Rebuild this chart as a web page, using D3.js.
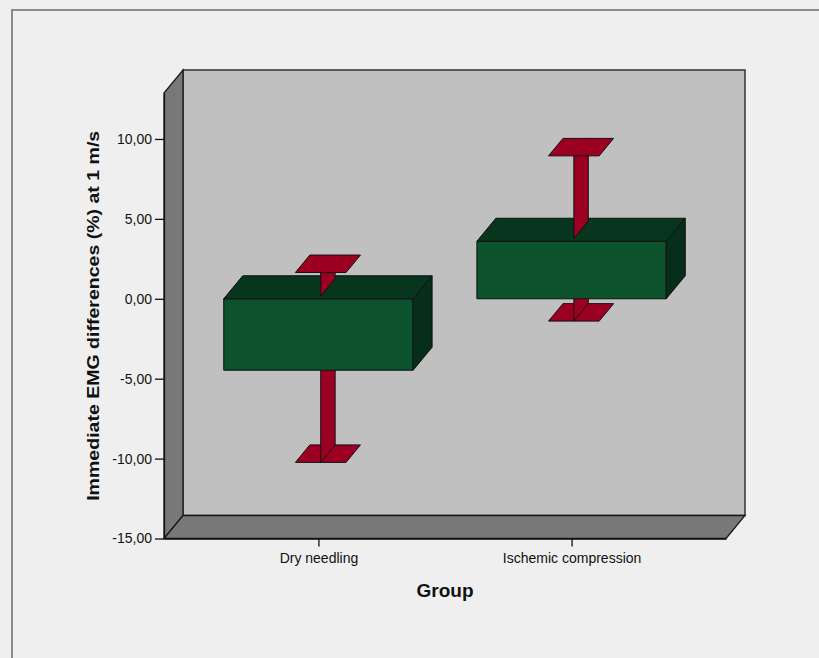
<!DOCTYPE html>
<html>
<head>
<meta charset="utf-8">
<script src="https://cdn.jsdelivr.net/npm/d3@7"></script>
<style>
  html, body { margin: 0; padding: 0; background: #efefef; }
  svg { display: block; }
  text { font-family: "Liberation Sans", Arial, sans-serif; fill: #111; }
</style>
</head>
<body>
<svg id="chart" width="819" height="658"></svg>
<script>
// Group means of immediate EMG differences with their error intervals
const categories = ["Dry needling", "Ischemic compression"];
const means = [-4.47, 3.60];
const errLower = [-10.41, -1.57];
const errUpper = [1.47, 8.77];
const yTicks = [-15, -10, -5, 0, 5, 10];
const yDomain = [-15, 12.87];
const xTitle = "Group";
const yTitle = "Immediate EMG differences (%) at 1 m/s";

const svg = d3.select("#chart");

// Plot frame (front plane) and 3D depth offset
const front = { left: 164, right: 726, top: 93.1, bottom: 538.5 };
const DX = 19, DY = -23;

const y = d3.scaleLinear().domain(yDomain).range([front.bottom, front.top]);
const x = d3.scalePoint().domain(categories).range([front.left, front.right]).padding(0.61);
const step = x.step();
const barHalf = 0.374 * step;
const capHalf = 0.1 * step;
const z0 = 0.12, z1 = 0.88;

// project a point (screen x on front plane, data value, depth fraction)
const P = (px, v, z) => [px + z * DX, y(v) + z * DY];
const poly = pts => "M" + pts.map(p => p.join(",")).join("L") + "Z";

const colors = {
  bg: "#efefef", frame: "#8a8a8a",
  backWall: "#c0c0c0", sideWall: "#787878",
  barFront: "#0b522d", barTop: "#07351e", barSide: "#062e1a",
  err: "#9b0023", edge: "#111"
};

// outer frame
svg.append("rect").attr("x", 12).attr("y", 10).attr("width", 830).attr("height", 670)
  .attr("fill", colors.bg).attr("stroke", colors.frame).attr("stroke-width", 2);

const vMin = yDomain[0], vMax = yDomain[1];
const L = front.left, R = front.right;

// back wall
svg.append("path")
  .attr("d", poly([P(L, vMin, 1), P(L, vMax, 1), P(R, vMax, 1), P(R, vMin, 1)]))
  .attr("fill", colors.backWall).attr("stroke", "#333").attr("stroke-width", 1.5);
// left wall
svg.append("path")
  .attr("d", poly([P(L, vMin, 0), P(L, vMax, 0), P(L, vMax, 1), P(L, vMin, 1)]))
  .attr("fill", colors.sideWall).attr("stroke", "#1a1a1a").attr("stroke-width", 1.3);
// floor
svg.append("path")
  .attr("d", poly([P(L, vMin, 0), P(R, vMin, 0), P(R, vMin, 1), P(L, vMin, 1)]))
  .attr("fill", colors.sideWall).attr("stroke", "#1a1a1a").attr("stroke-width", 1.3);

// y axis
const yAxis = d3.axisLeft(y).tickValues(yTicks).tickSize(9).tickSizeOuter(0).tickPadding(3)
  .tickFormat(d => d3.format(".2f")(d).replace(".", ",").replace("\u2212", "-"));
const gy = svg.append("g").attr("transform", `translate(${L},0)`).call(yAxis);
gy.select(".domain").attr("stroke", "#111").attr("stroke-width", 1.3);
gy.selectAll(".tick line").attr("stroke", "#111").attr("stroke-width", 1.3);
gy.selectAll(".tick text").style("font-size", "14px").attr("fill", "#1a1a1a");

// x axis
const xAxis = d3.axisBottom(x).tickSize(8).tickPadding(7).tickSizeOuter(0);
const gx = svg.append("g").attr("transform", `translate(0,${front.bottom})`).call(xAxis);
gx.select(".domain").attr("stroke", "#111").attr("stroke-width", 1.3);
gx.selectAll(".tick line").attr("stroke", "#111").attr("stroke-width", 1.3);
gx.selectAll(".tick text").style("font-size", "14px").attr("fill", "#1a1a1a");

// axis titles
svg.append("text")
  .attr("x", (L + R) / 2).attr("y", 596.5)
  .attr("text-anchor", "middle")
  .style("font-size", "19px").style("font-weight", "bold")
  .text(xTitle);

svg.append("text")
  .attr("transform", `translate(98.5,${(front.top + front.bottom) / 2}) rotate(-90)`)
  .attr("text-anchor", "middle")
  .attr("textLength", 370).attr("lengthAdjust", "spacingAndGlyphs")
  .style("font-size", "17px").style("font-weight", "bold")
  .text(yTitle);

// bars with error bars
const drawCap = (g, cx, v) => g.append("path")
  .attr("d", poly([P(cx - capHalf, v, z0), P(cx + capHalf, v, z0), P(cx + capHalf, v, z1), P(cx - capHalf, v, z1)]))
  .attr("fill", colors.err).attr("stroke", colors.edge).attr("stroke-width", 1);
const drawStem = (g, cx, a, b) => g.append("path")
  .attr("d", poly([P(cx, a, z0), P(cx, b, z0), P(cx, b, z1), P(cx, a, z1)]))
  .attr("fill", colors.err).attr("stroke", colors.edge).attr("stroke-width", 1);

categories.forEach((c, i) => {
  const g = svg.append("g").attr("class", "bar");
  const cx = x(c);
  const m = means[i];
  const lo = Math.min(0, m), hi = Math.max(0, m);
  const xl = cx - barHalf, xr = cx + barHalf;

  // lower error part (partly hidden behind the bar)
  drawCap(g, cx, errLower[i]);
  if (errLower[i] < lo) drawStem(g, cx, errLower[i], lo);

  // bar faces
  g.append("path").attr("d", poly([P(xl, hi, 0), P(xr, hi, 0), P(xr, lo, 0), P(xl, lo, 0)]))
    .attr("fill", colors.barFront).attr("stroke", colors.edge).attr("stroke-width", 1);
  g.append("path").attr("d", poly([P(xl, hi, 0), P(xl, hi, 1), P(xr, hi, 1), P(xr, hi, 0)]))
    .attr("fill", colors.barTop).attr("stroke", colors.edge).attr("stroke-width", 1);
  g.append("path").attr("d", poly([P(xr, hi, 0), P(xr, hi, 1), P(xr, lo, 1), P(xr, lo, 0)]))
    .attr("fill", colors.barSide).attr("stroke", colors.edge).attr("stroke-width", 1);

  // upper error part
  if (errUpper[i] > hi) drawStem(g, cx, hi, errUpper[i]);
  drawCap(g, cx, errUpper[i]);
});
</script>
</body>
</html>
